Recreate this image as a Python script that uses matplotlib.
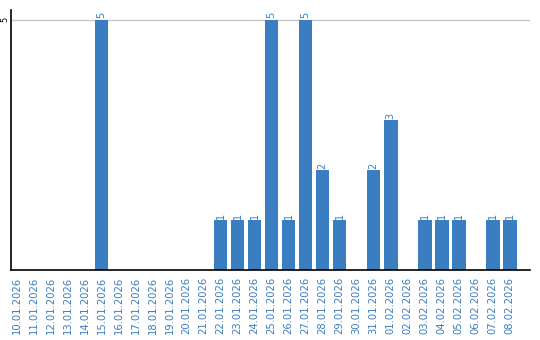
import matplotlib as mpl
import matplotlib.pyplot as plt
import numpy as np

mpl.rcParams['font.family'] = 'DejaVu Sans'

dates = [
    '10.01.2026', '11.01.2026', '12.01.2026', '13.01.2026', '14.01.2026',
    '15.01.2026', '16.01.2026', '17.01.2026', '18.01.2026', '19.01.2026',
    '20.01.2026', '21.01.2026', '22.01.2026', '23.01.2026', '24.01.2026',
    '25.01.2026', '26.01.2026', '27.01.2026', '28.01.2026', '29.01.2026',
    '30.01.2026', '31.01.2026', '01.02.2026', '02.02.2026', '03.02.2026',
    '04.02.2026', '05.02.2026', '06.02.2026', '07.02.2026', '08.02.2026',
]
counts = [0, 0, 0, 0, 0, 5, 0, 0, 0, 0,
          0, 0, 1, 1, 1, 5, 1, 5, 2, 1,
          0, 2, 3, 0, 1, 1, 1, 0, 1, 1]

blue = '#3a7dc1'

fig = plt.figure(figsize=(5.4, 3.4), dpi=100)
ax = fig.add_axes([0.0204, 0.206, 0.961, 0.765])

x = np.arange(len(dates))
bars = ax.bar(x, counts, width=0.82, color=blue, zorder=2)

for xi, c in zip(x, counts):
    if c > 0:
        ax.annotate(str(c), (xi, c), xytext=(0, 1), textcoords='offset points',
                    rotation=90, ha='center', va='bottom', fontsize=7,
                    color=blue, annotation_clip=False)

ax.set_xlim(-0.32, 30.2)
ax.set_ylim(0, 5.2)
ax.set_yticks([5])
ax.set_yticklabels(['5'], rotation=90, va='center', fontsize=6)
ax.yaxis.grid(True, color='#c8c8c8', linewidth=1, zorder=0)
ax.set_xticks(x)
ax.set_xticklabels(dates, rotation=90, fontsize=7.2, color=blue)
ax.tick_params(axis='x', length=0, pad=5)
ax.tick_params(axis='y', length=0, pad=1)

for s in ['top', 'right']:
    ax.spines[s].set_visible(False)
for s in ['left', 'bottom']:
    ax.spines[s].set_linewidth(1.2)
    ax.spines[s].set_color('black')

fig.savefig('out.png', dpi=100)
